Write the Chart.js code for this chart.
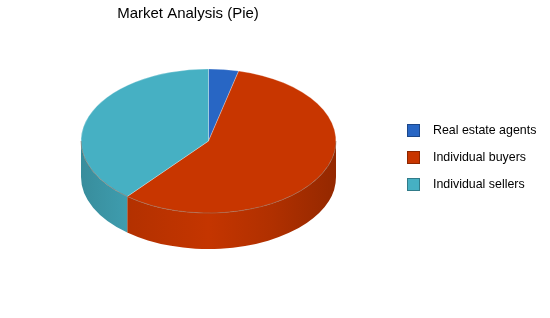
<!DOCTYPE html>
<html>
<head>
<meta charset="utf-8">
<script src="https://cdn.jsdelivr.net/npm/chart.js@4"></script>
<style>
  body { margin: 0; background: #fff; }
  canvas { display: block; }
</style>
</head>
<body>
<canvas id="marketPie" width="550" height="318"></canvas>
<script>
// Market Analysis data
const segments = ['Real estate agents', 'Individual buyers', 'Individual sellers'];
const shares = [3.8, 57.2, 39];
const sliceColors = ['#2866C4', '#C83600', '#46B0C3'];
const chartTitle = 'Market Analysis (Pie)';

// scale a hex colour by a factor
function shade(hex, f) {
    const n = parseInt(hex.slice(1), 16);
    const r = Math.round(((n >> 16) & 255) * f);
    const g = Math.round(((n >> 8) & 255) * f);
    const b = Math.round((n & 255) * f);
    return 'rgb(' + r + ',' + g + ',' + b + ')';
}

// fake 3D: squash the pie and draw the front wall below it
const pie3d = {
    id: 'pie3d',
    beforeDatasetsDraw(chart, args, opts) {
        const ctx = chart.ctx;
        const arcs = chart.getDatasetMeta(0).data;
        if (!arcs.length) return;
        const { x, y, outerRadius: r } = arcs[0].getProps(['x', 'y', 'outerRadius'], true);
        const ry = r * opts.tilt;
        const d = opts.depth;

        arcs.forEach((arc, i) => {
            const { startAngle, endAngle } = arc.getProps(['startAngle', 'endAngle'], true);
            const a0 = Math.max(startAngle, 0);
            const a1 = Math.min(endAngle, Math.PI);
            if (a1 <= a0) return;
            const base = chart.data.datasets[0].backgroundColor[i];
            const grad = ctx.createLinearGradient(x - r, 0, x + r, 0);
            grad.addColorStop(0, shade(base, 0.8));
            grad.addColorStop(0.2, shade(base, 0.9));
            grad.addColorStop(0.5, shade(base, 0.98));
            grad.addColorStop(0.75, shade(base, 0.88));
            grad.addColorStop(1, shade(base, 0.74));
            ctx.beginPath();
            ctx.ellipse(x, y, r, ry, 0, a0, a1);
            ctx.ellipse(x, y + d, r, ry, 0, a1, a0, true);
            ctx.closePath();
            ctx.fillStyle = grad;
            ctx.fill();
        });

        ctx.save();
        ctx.translate(0, y);
        ctx.scale(1, opts.tilt);
        ctx.translate(0, -y);
    },
    afterDatasetsDraw(chart, args, opts) {
        const ctx = chart.ctx;
        ctx.restore();
        const arcs = chart.getDatasetMeta(0).data;
        if (!arcs.length) return;
        const { x, y, outerRadius: r } = arcs[0].getProps(['x', 'y', 'outerRadius'], true);
        // darker rim where the top meets the wall
        ctx.save();
        ctx.beginPath();
        ctx.ellipse(x, y, r, r * opts.tilt, 0, 0, Math.PI);
        ctx.strokeStyle = 'rgba(90,30,0,0.35)';
        ctx.lineWidth = 1;
        ctx.stroke();
        ctx.restore();
    },
    afterDraw(chart, args, opts) {
        const ctx = chart.ctx;
        ctx.save();
        // title
        ctx.fillStyle = '#000';
        ctx.font = '15px "Liberation Sans", Arial, sans-serif';
        ctx.textAlign = 'center';
        ctx.textBaseline = 'alphabetic';
        ctx.fillText(chartTitle, opts.titleX, opts.titleY);

        // legend
        ctx.font = '12.4px "Liberation Sans", Arial, sans-serif';
        ctx.textAlign = 'left';
        ctx.textBaseline = 'middle';
        const colors = chart.data.datasets[0].backgroundColor;
        chart.data.labels.forEach((label, i) => {
            const top = opts.legendY + i * opts.legendStep;
            ctx.fillStyle = colors[i];
            ctx.fillRect(opts.legendX, top, 13, 13);
            ctx.strokeStyle = shade(colors[i], 0.7);
            ctx.strokeRect(opts.legendX + 0.5, top + 0.5, 12, 12);
            ctx.fillStyle = '#000';
            ctx.fillText(label, opts.legendX + 26, top + 7);
        });
        ctx.restore();
    }
};

const pieCtx = document.getElementById('marketPie').getContext('2d');
const marketChart = new Chart(pieCtx, {
    type: 'pie',
    data: {
        labels: segments,
        datasets: [{
            data: shares,
            backgroundColor: sliceColors,
            borderColor: 'rgba(255,255,255,0.35)',
            borderWidth: 1,
            radius: 127.5
        }]
    },
    options: {
        responsive: false,
        animation: false,
        events: [],
        layout: {
            padding: { left: 0, right: 133, top: 0, bottom: 36 }
        },
        plugins: {
            legend: { display: false },
            title: { display: false },
            tooltip: { enabled: false },
            pie3d: {
                tilt: 0.565,
                depth: 36,
                titleX: 188,
                titleY: 18,
                legendX: 407,
                legendY: 124,
                legendStep: 27
            }
        }
    },
    plugins: [pie3d]
});
</script>
</body>
</html>
